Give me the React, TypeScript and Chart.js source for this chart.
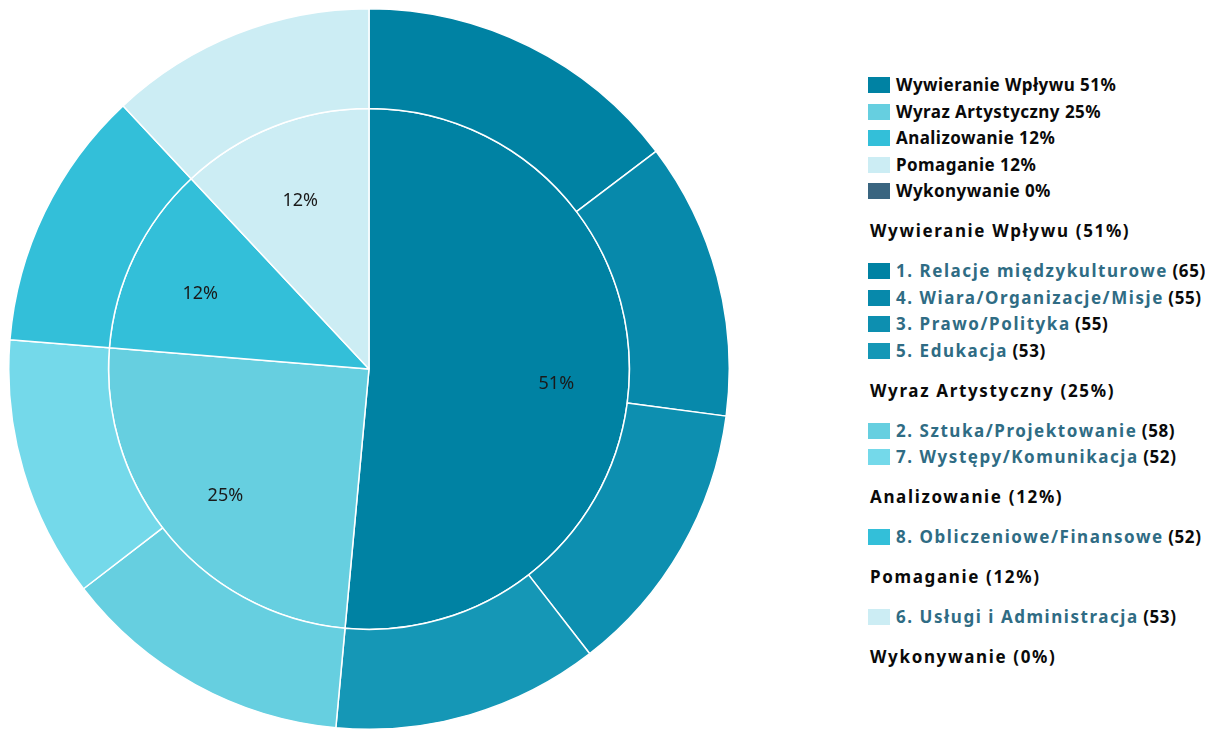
import React, { useEffect, useRef } from "react";
import { Chart, registerables } from "chart.js";

Chart.register(...registerables);

// ---- data ----
const groupLabels = ["Wywieranie Wpływu", "Wyraz Artystyczny", "Analizowanie", "Pomaganie", "Wykonywanie"];
const groupColors = ["#0082a3", "#66cfe0", "#33bfd9", "#ccedf4", "#3a6580"];

const itemLabels = [
  "1. Relacje międzykulturowe",
  "4. Wiara/Organizacje/Misje",
  "3. Prawo/Polityka",
  "5. Edukacja",
  "2. Sztuka/Projektowanie",
  "7. Występy/Komunikacja",
  "8. Obliczeniowe/Finansowe",
  "6. Usługi i Administracja",
];
const itemValues = [65, 55, 55, 53, 58, 52, 52, 53];
const itemGroup = [0, 0, 0, 0, 1, 1, 2, 3];
const itemColors = ["#0082a3", "#0789ab", "#0d8fb0", "#1597b6", "#66cfe0", "#74d9ea", "#33bfd9", "#ccedf4"];

const groupValues = groupLabels.map((_, g) =>
  itemValues.reduce((s, v, i) => (itemGroup[i] === g ? s + v : s), 0)
);
const total = groupValues.reduce((a, b) => a + b, 0);
const pct = (v: number) => Math.round((v / total) * 100);

const innerLabelPlugin = {
  id: "innerLabels",
  afterDatasetsDraw(chart: any) {
    const meta = chart.getDatasetMeta(1);
    const ctx = chart.ctx;
    ctx.save();
    ctx.font = '18px "Noto Sans"';
    ctx.fillStyle = "#1a1a1a";
    ctx.textAlign = "center";
    ctx.textBaseline = "middle";
    meta.data.forEach((arc: any, i: number) => {
      const v = groupValues[i];
      if (!v) return;
      const { x, y, startAngle, endAngle, outerRadius } = arc.getProps(
        ["x", "y", "startAngle", "endAngle", "outerRadius"],
        true
      );
      const mid = (startAngle + endAngle) / 2;
      const r = outerRadius * 0.72;
      ctx.fillText(pct(v) + "%", x + Math.cos(mid) * r, y + Math.sin(mid) * r + 6);
    });
    ctx.restore();
  },
};

const font = '"Noto Sans", "Open Sans", sans-serif';
const rowH = 26.5;

function Box({ color }: { color: string }) {
  return (
    <span
      style={{
        display: "inline-block",
        width: 22,
        height: 16,
        background: color,
        marginRight: 6,
        verticalAlign: "middle",
        position: "relative",
        top: -1,
      }}
    />
  );
}

export default function App() {
  const ref = useRef<HTMLCanvasElement>(null);
  useEffect(() => {
    if (!ref.current) return;
    const chart = new Chart(ref.current, {
      type: "pie",
      data: {
        labels: itemLabels,
        datasets: [
          {
            data: itemValues,
            backgroundColor: itemColors,
            borderColor: "#ffffff",
            borderWidth: 1.5,
            weight: 100,
          } as any,
          {
            data: groupValues,
            backgroundColor: groupColors,
            borderColor: "#ffffff",
            borderWidth: 1.5,
            weight: 261,
          } as any,
        ],
      },
      options: {
        responsive: false,
        animation: false,
        layout: { padding: 0 },
        plugins: { legend: { display: false }, tooltip: { enabled: false } },
      },
      plugins: [innerLabelPlugin],
    });
    return () => chart.destroy();
  }, []);

  return (
    <div style={{ position: "relative", width: 1197, height: 722 }}>
      <canvas ref={ref} width={722} height={722} style={{ position: "absolute", left: 0, top: 0 }} />
      <div
        style={{
          position: "absolute",
          left: 860,
          top: 64,
          fontFamily: font,
          fontWeight: 700,
          fontSize: 17,
          color: "#0a0a0a",
          whiteSpace: "nowrap",
        }}
      >
        {groupLabels.map((g, i) => (
          <div key={"l" + i} style={{ height: rowH, lineHeight: rowH + "px", letterSpacing: 0.45 }}>
            <Box color={groupColors[i]} />
            {g} {pct(groupValues[i])}%
          </div>
        ))}
        {groupLabels.map((g, gi) => (
          <div key={"g" + gi}>
            <div
              style={{
                height: rowH,
                lineHeight: rowH + "px",
                marginTop: 13.5,
                marginBottom: 13.5,
                paddingLeft: 2,
                letterSpacing: 1.65,
              }}
            >
              {g} ({pct(groupValues[gi])}%)
            </div>
            {itemLabels.map((it, ii) =>
              itemGroup[ii] === gi ? (
                <div key={"i" + ii} style={{ height: rowH, lineHeight: rowH + "px" }}>
                  <Box color={itemColors[ii]} />
                  <span style={{ color: "#2f6c84", letterSpacing: 1.55 }}>{it}</span>{" "}
                  <span style={{ fontSize: 17, color: "#0a0a0a", letterSpacing: 0.6 }}>({itemValues[ii]})</span>
                </div>
              ) : null
            )}
          </div>
        ))}
      </div>
    </div>
  );
}
